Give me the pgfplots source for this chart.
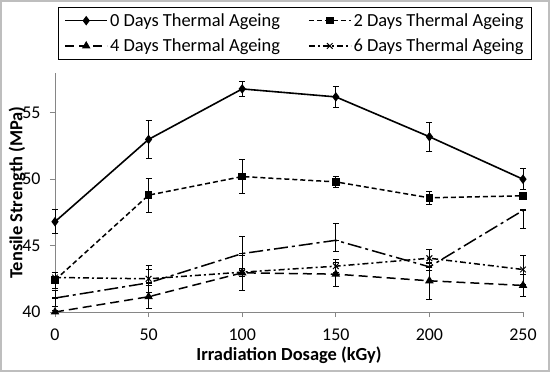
\documentclass[border=0pt]{standalone}
\usepackage{pgfplots}
\pgfplotsset{compat=1.18}
\usepackage{fontspec}
\setmainfont{Carlito}
\definecolor{axgray}{RGB}{134,134,134}
\definecolor{framegray}{RGB}{190,190,190}
\begin{document}
\begin{tikzpicture}
\useasboundingbox (0,0) rectangle (550bp,372bp);
\draw[framegray, line width=1.5bp] (1bp,1bp) rectangle (549bp,371bp);
\begin{axis}[
  at={(55bp,60bp)}, anchor=south west,
  scale only axis, width=468bp, height=239bp,
  xmin=0, xmax=250, ymin=40, ymax=58,
  xtick={0,50,100,150,200,250},
  ytick={40,45,50,55},
  axis x line*=bottom, axis y line*=left,
  axis line style={axgray, line width=0.8bp, -},
  tick style={axgray, line width=0.8bp},
  tick align=outside, major tick length=5bp,
  clip=false,
  tick label style={font=\fontsize{18}{20}\selectfont},
  /pgf/number format/assume math mode=true,
  xticklabel style={yshift=-8bp},
  yticklabel style={xshift=-6bp},
  xlabel={\textbf{Irradiation Dosage (kGy)}},
  ylabel={\textbf{Tensile Strength (MPa)}},
  label style={font=\fontsize{18.5}{20}\selectfont},
  xlabel style={at={(rel axis cs:0.5,-0.18)}, anchor=center},
  ylabel style={at={(rel axis cs:-0.081,0.5)}, anchor=center, rotate=0},
  legend columns=2,
  legend style={at={(rel axis cs:0.5128,1.2755)}, anchor=north, draw=black, line width=0.8bp,
    font=\fontsize{18.5}{21}\selectfont, inner xsep=6bp, inner ysep=4bp,
    /tikz/every even column/.append style={column sep=26bp}, row sep=7bp},
  legend image code/.code={\draw[mark repeat=2,mark phase=2,#1] plot coordinates {(0bp,0bp)(21bp,0bp)(42bp,0bp)};},
  error bars/error mark options={rotate=90, mark size=3bp, line width=0.7bp, black, solid},
  error bars/error bar style={line width=0.7bp, black, solid},
]
% 0 Days
\addplot[black, line width=1.6bp, mark=diamond*, mark size=3.5bp, mark options={solid},
  error bars/.cd, y dir=both, y explicit] coordinates {
  (0,46.8) +- (0,0.9)
  (50,53.0) +- (0,1.4)
  (100,56.8) +- (0,0.55)
  (150,56.2) +- (0,0.8)
  (200,53.2) +- (0,1.1)
  (250,50.0) +- (0,0.8)
};
\addlegendentry{0 Days Thermal Ageing}
% 2 Days
\addplot[black, line width=1.5bp, dash pattern=on 5bp off 3bp, mark=square*, mark size=3bp, mark options={solid},
  error bars/.cd, y dir=both, y explicit] coordinates {
  (0,42.4) +- (0,0.6)
  (50,48.8) +- (0,1.3)
  (100,50.2) +- (0,1.3)
  (150,49.8) +- (0,0.4)
  (200,48.6) +- (0,0.5)
  (250,48.75) +- (0,0.1)
};
\addlegendentry{2 Days Thermal Ageing}
% 4 Days
\addplot[black, line width=1.5bp, dash pattern=on 9bp off 5bp, mark=triangle*, mark size=3.5bp, mark options={solid},
  error bars/.cd, y dir=both, y explicit] coordinates {
  (0,40.0) +- (0,0.1)
  (50,41.15) +- (0,0.85)
  (100,42.95) +- (0,1.3)
  (150,42.85) +- (0,0.9)
  (200,42.35) +- (0,1.4)
  (250,42.0) +- (0,0.8)
};
\addlegendentry{4 Days Thermal Ageing}
% 6 Days
\addplot[black, line width=1.5bp, dash pattern=on 6bp off 3bp on 2bp off 3bp, mark=x, mark size=4bp, mark options={solid, line width=1bp},
  error bars/.cd, y dir=both, y explicit] coordinates {
  (0,42.6) +- (0,0.4)
  (50,42.5) +- (0,1.0)
  (100,43.0) +- (0,0.3)
  (150,43.45) +- (0,0.5)
  (200,44.05) +- (0,0.7)
  (250,43.2) +- (0,1.1)
};
\addlegendentry{6 Days Thermal Ageing}
% unlabelled series
\addplot[black, line width=1.5bp, dash pattern=on 14bp off 4bp on 3bp off 4bp, mark=-, mark size=3bp, mark options={solid}, forget plot,
  error bars/.cd, y dir=both, y explicit] coordinates {
  (0,41.05) +- (0,0.6)
  (50,42.2) +- (0,1.0)
  (100,44.4) +- (0,1.3)
  (150,45.4) += (0,1.3) -= (0,0.8)
  (200,43.4) +- (0,0.3)
  (250,47.65) += (0,0.1) -= (0,1.35)
};
\end{axis}
\end{tikzpicture}
\end{document}
